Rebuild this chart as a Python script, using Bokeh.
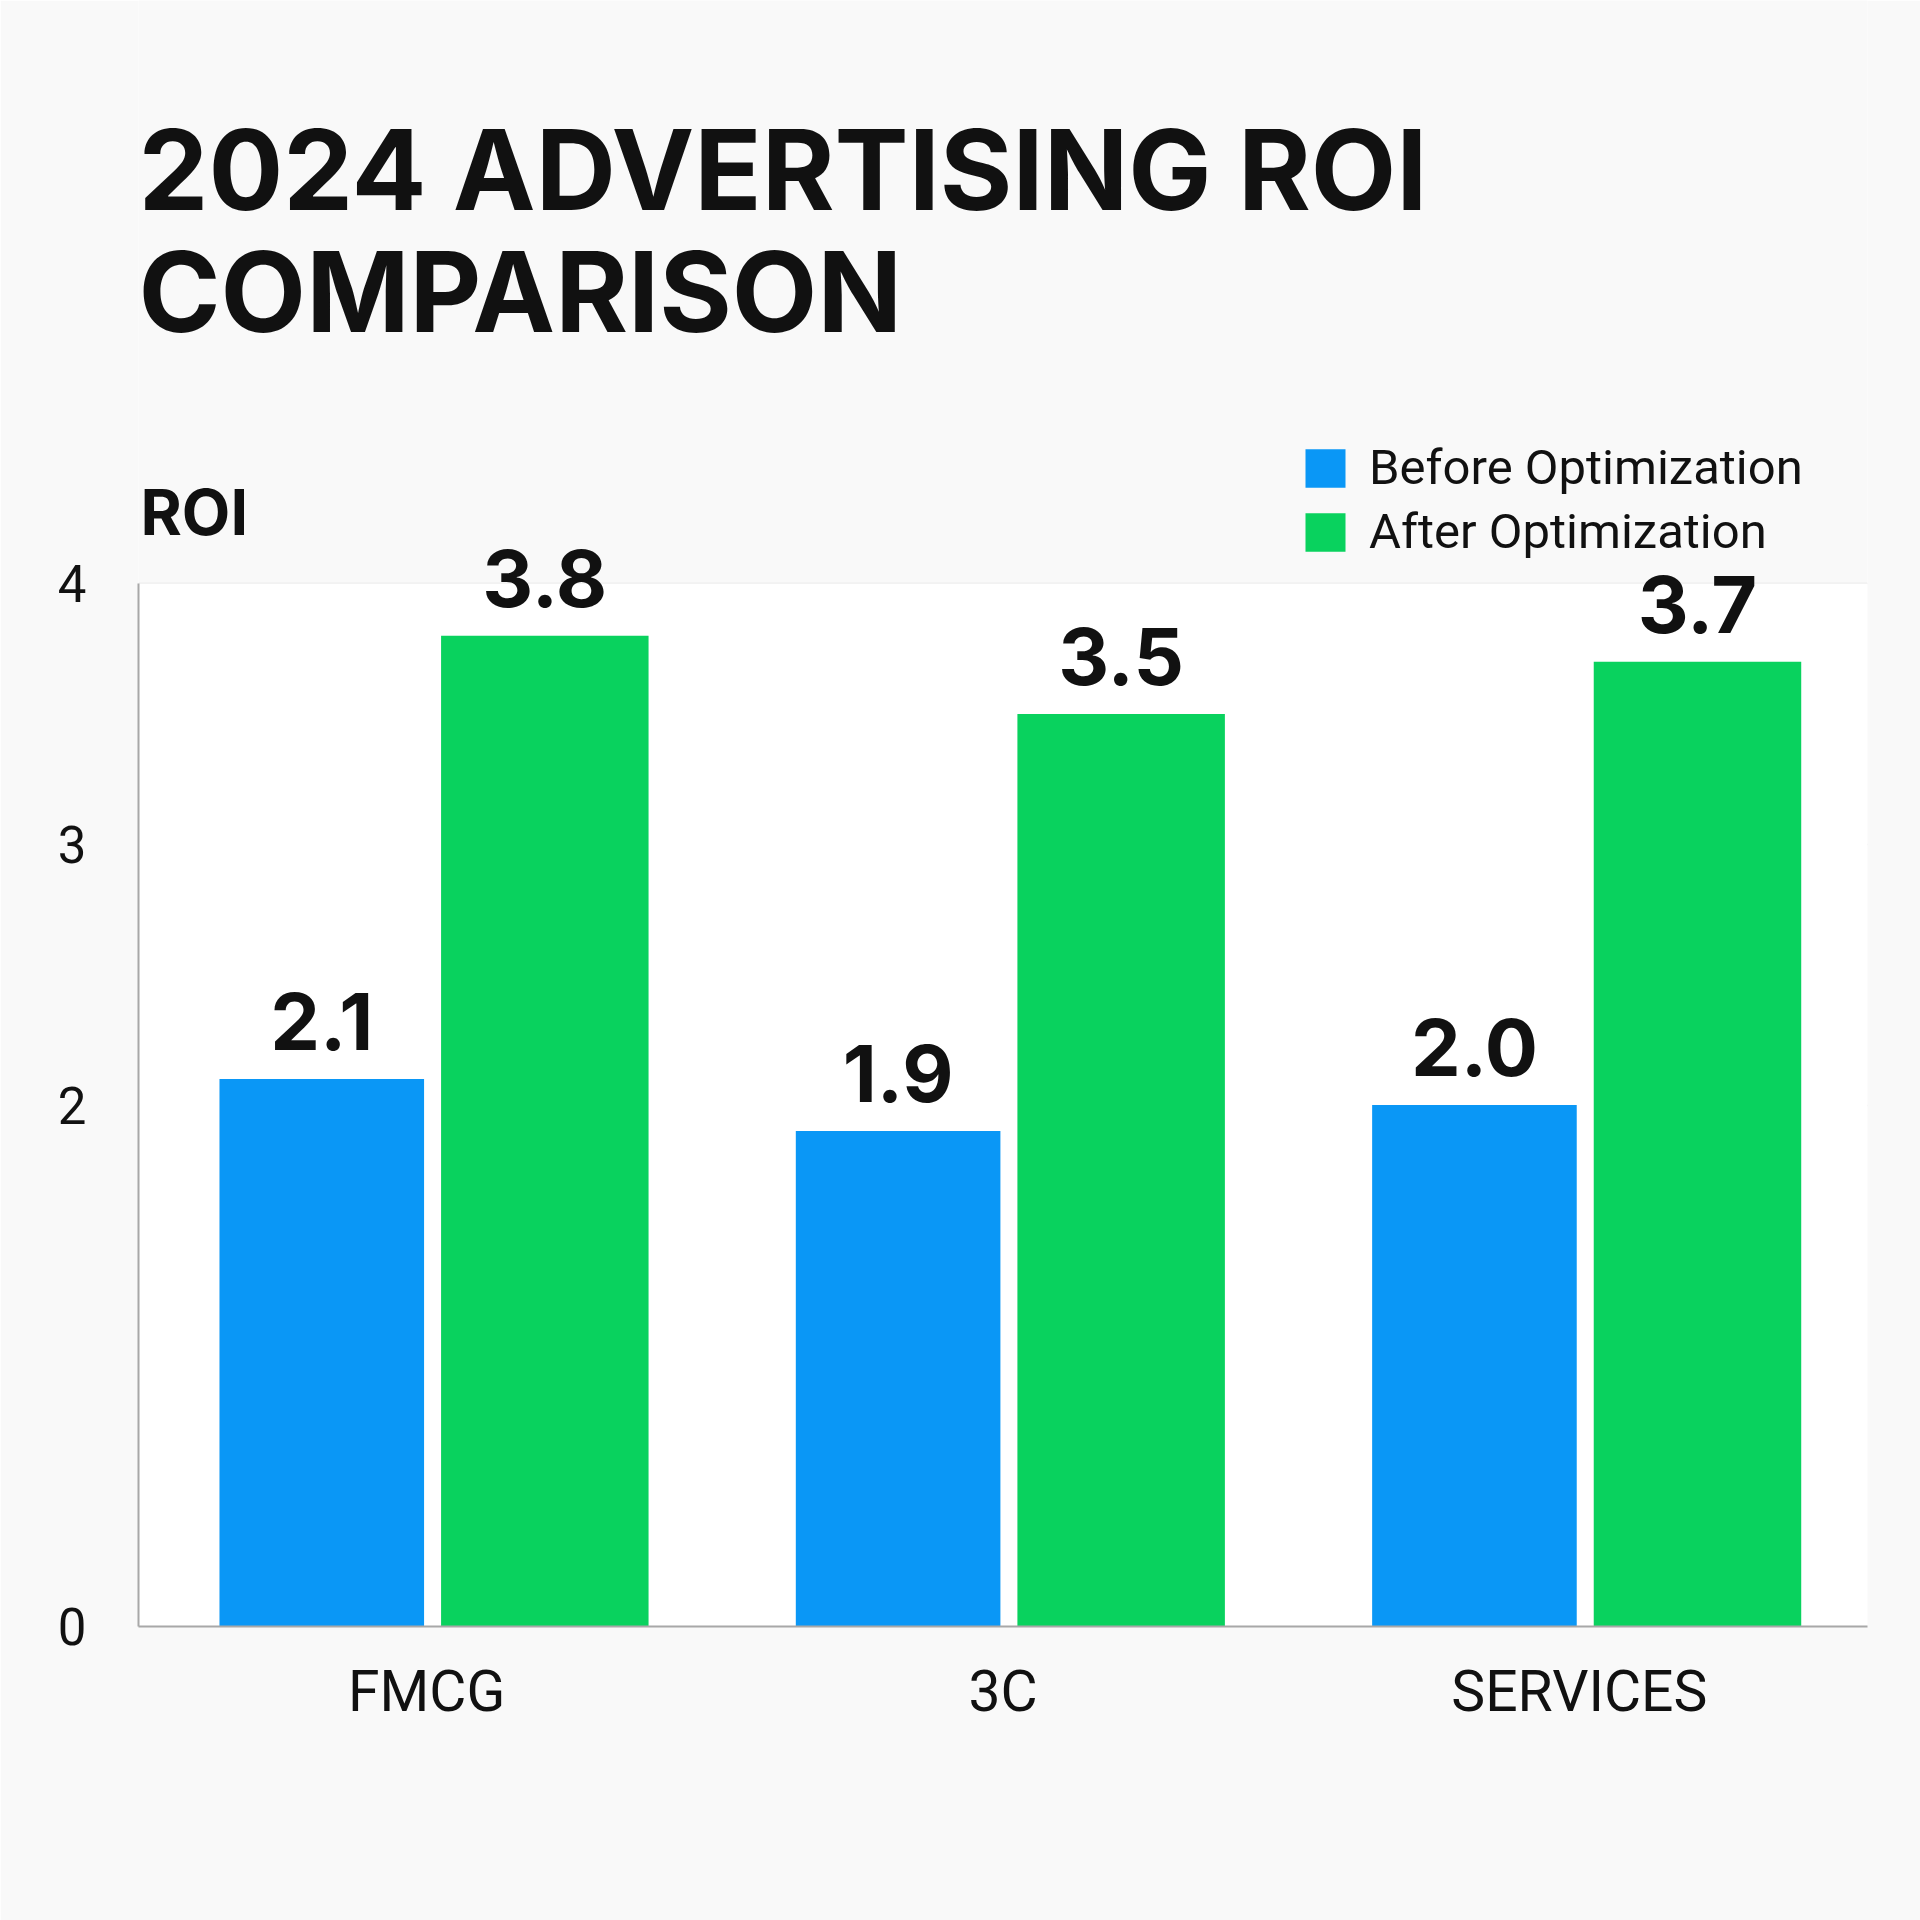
from bokeh.plotting import figure
from bokeh.models import (ColumnDataSource, FactorRange, Range1d, FixedTicker, Label,
                          LabelSet, Legend, LegendItem, BoxAnnotation)
from bokeh.core.properties import value
from bokeh.transform import dodge
from bokeh.embed import file_html
from bokeh.resources import INLINE

# ---- data ----
categories = ["FMCG", "3C", "SERVICES"]
before_opt = [2.1, 1.9, 2.0]
after_opt = [3.8, 3.5, 3.7]
y_ticks = [0, 2, 3, 4]
series_names = ["Before Optimization", "After Optimization"]
title_lines = ["2024 ADVERTISING ROI", "COMPARISON"]
y_label = "ROI"

BLUE = "#0a97f6"
GREEN = "#09d25e"
INK = "#111111"

W, H = 1920, 1920
BORDER_BOTTOM = 294
AXIS_TOP_PX = 583          # canvas y where value 4 sits
frame_h = H - BORDER_BOTTOM
y_end = 4 * frame_h / (frame_h - AXIS_TOP_PX)

source = ColumnDataSource(dict(
    cat=categories,
    before=before_opt,
    after=after_opt,
    before_lbl=[f"{v:.1f}" for v in before_opt],
    after_lbl=[f"{v:.1f}" for v in after_opt],
))

p = figure(x_range=FactorRange(*categories), y_range=Range1d(0, y_end),
           width=W, height=H, output_backend="svg", toolbar_location=None, title=None,
           min_border_left=138, min_border_right=53, min_border_top=0,
           min_border_bottom=BORDER_BOTTOM)
p.x_range.range_padding = 0
p.background_fill_color = "#f9f9f9"
p.border_fill_color = "#f9f9f9"
p.outline_line_color = None

# white plotting area between 0 and 4
p.add_layout(BoxAnnotation(bottom=0, top=4, fill_color="#ffffff", fill_alpha=1,
                           line_color=None, level="underlay"))

r1 = p.vbar(x=dodge("cat", -0.182, range=p.x_range), top="before", width=0.355,
            source=source, color=BLUE, line_color=None)
r2 = p.vbar(x=dodge("cat", 0.205, range=p.x_range), top="after", width=0.36,
            source=source, color=GREEN, line_color=None)

lbl_kw = dict(y_offset=29, text_align="center", text_baseline="alphabetic",
              text_font=value("Inter"), text_font_style="bold",
              text_font_size="79px", text_color=INK, source=source)
p.add_layout(LabelSet(x=dodge("cat", -0.182, range=p.x_range), y="before",
                      text="before_lbl", **lbl_kw))
p.add_layout(LabelSet(x=dodge("cat", 0.205, range=p.x_range), y="after",
                      text="after_lbl", **lbl_kw))

# axes
p.yaxis.ticker = FixedTicker(ticks=y_ticks)
p.yaxis.bounds = (0, 4)
p.ygrid.ticker = FixedTicker(ticks=y_ticks)
p.ygrid.grid_line_color = "#e4e4e4"
p.ygrid.grid_line_width = 1.5
p.xgrid.grid_line_color = None
for ax in (p.xaxis, p.yaxis):
    ax.axis_line_color = "#a8a8a8"
    ax.axis_line_width = 2
    ax.major_tick_line_color = None
    ax.minor_tick_line_color = None
    ax.major_label_text_color = INK
    ax.major_label_text_font = "Roboto"
p.yaxis.major_label_text_font_size = "51px"
p.yaxis.major_label_standoff = 46
p.xaxis.major_label_text_font_size = "57px"
p.xaxis.major_label_standoff = 25

# titles (screen units measured from the frame's bottom-left)
def sy(canvas_baseline, size):
    # Label places the alphabetic baseline ~0.39em lower than requested
    return frame_h - (canvas_baseline - 0.39 * size)

TITLE_SIZE = 111
for txt, base in ((title_lines[0], 212), (title_lines[1], 334)):
    p.add_layout(Label(x=0, y=sy(base, TITLE_SIZE), x_units="screen", y_units="screen",
                       text=txt, text_font="Inter", text_font_style="bold",
                       text_font_size=f"{TITLE_SIZE}px", text_color=INK,
                       text_baseline="alphabetic"))
p.add_layout(Label(x=2, y=sy(536, 63), x_units="screen", y_units="screen", text=y_label,
                   text_font="Inter", text_font_style="bold",
                   text_font_size="63px", text_color=INK, text_baseline="alphabetic"))

legend = Legend(items=[LegendItem(label=series_names[0], renderers=[r1]),
                       LegendItem(label=series_names[1], renderers=[r2])],
                location=(1162, frame_h - 560), glyph_width=50, glyph_height=48,
                label_height=48, label_standoff=19, spacing=7, padding=0, margin=0,
                border_line_color=None, background_fill_alpha=0,
                label_text_font="Roboto", label_text_font_size="49px",
                label_text_color=INK)
p.add_layout(legend)

open("out.html", "w").write(file_html(p, INLINE))
